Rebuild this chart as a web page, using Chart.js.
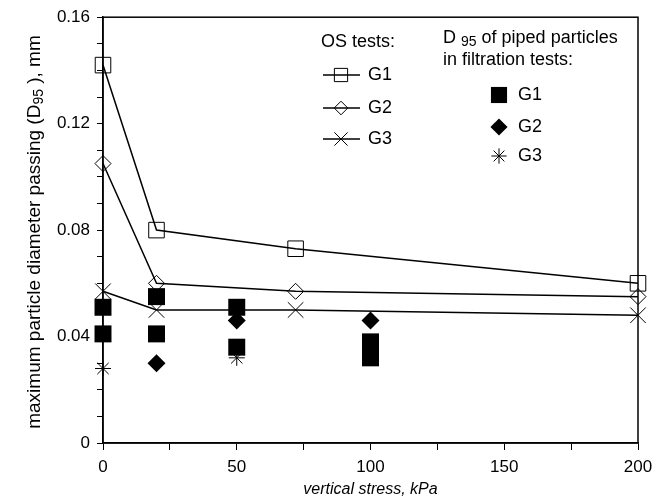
<!DOCTYPE html>
<html>
<head>
<meta charset="utf-8">
<script src="https://cdn.jsdelivr.net/npm/chart.js@4.4.1/dist/chart.umd.min.js"></script>
<style>
  html, body { margin: 0; padding: 0; background: #fff; }
</style>
</head>
<body>
<canvas id="chart" width="667" height="504"></canvas>
<script>
// OS tests: D95 (mm) against vertical stress (kPa)
var osStress = [0, 20, 72, 200];
var osG1 = [0.142, 0.080, 0.073, 0.060];
var osG2 = [0.105, 0.060, 0.057, 0.055];
var osG3 = [0.057, 0.050, 0.050, 0.048];

// D95 of the piped particles in the filtration tests
var filtG1Stress = [0, 0, 20, 20, 50, 50, 100, 100, 100];
var filtG1 = [0.051, 0.041, 0.055, 0.041, 0.051, 0.036, 0.038, 0.035, 0.032];
var filtG2Stress = [20, 50, 100];
var filtG2 = [0.030, 0.046, 0.046];
var filtG3Stress = [0, 50];
var filtG3 = [0.028, 0.032];

var seriesNames = ['G1', 'G2', 'G3'];
var xTickLabels = ['0', '50', '100', '150', '200'];
var yTickLabels = ['0', '0.04', '0.08', '0.12', '0.16'];

var FONT = '"Liberation Sans", Arial, sans-serif';

function pts(xs, ys) {
   return xs.map(function(x, i) { return { x: x, y: ys[i] }; });
}

function labelFor(list, value) {
   for (var i = 0; i < list.length; i++) {
      if (Math.abs(parseFloat(list[i]) - value) < 1e-9) return list[i];
   }
   return '';
}

var osDatasets = [
   { label: seriesNames[0], data: pts(osStress, osG1), pointStyle: 'rect', pointRadius: 11 },
   { label: seriesNames[1], data: pts(osStress, osG2), pointStyle: 'rectRot', pointRadius: 8 },
   { label: seriesNames[2], data: pts(osStress, osG3), pointStyle: 'crossRot', pointRadius: 11 }
].map(function(d) {
   return Object.assign(d, {
      showLine: true,
      borderColor: '#000',
      borderWidth: 1.5,
      pointBackgroundColor: 'rgba(0,0,0,0)',
      pointBorderColor: '#000',
      pointBorderWidth: 1,
      tension: 0,
      clip: false
   });
});

var filtDatasets = [
   { label: seriesNames[0], data: pts(filtG1Stress, filtG1), pointStyle: 'rect', pointRadius: 12, pointBorderWidth: 0 },
   { label: seriesNames[1], data: pts(filtG2Stress, filtG2), pointStyle: 'rectRot', pointRadius: 9, pointBorderWidth: 0 },
   { label: seriesNames[2], data: pts(filtG3Stress, filtG3), pointStyle: 'star', pointRadius: 8, pointBorderWidth: 1 }
].map(function(d) {
   return Object.assign(d, {
      showLine: false,
      pointBackgroundColor: '#000',
      pointBorderColor: '#000',
      clip: false
   });
});

// text with a smaller, lowered "95" in the middle
function drawSubText(ctx, x, y, parts, size, align) {
   var widths = parts.map(function(p) {
      ctx.font = (p.sub ? Math.round(size * 0.75) : size) + 'px ' + FONT;
      return ctx.measureText(p.text).width;
   });
   var total = widths.reduce(function(a, b) { return a + b; }, 0);
   var cx = align === 'center' ? x - total / 2 : x;
   ctx.textAlign = 'left';
   ctx.textBaseline = 'middle';
   parts.forEach(function(p, i) {
      ctx.font = (p.sub ? Math.round(size * 0.75) : size) + 'px ' + FONT;
      ctx.fillText(p.text, cx, y + (p.sub ? size * 0.22 : 0));
      cx += widths[i];
   });
}

var framePlugin = {
   id: 'frame',
   afterDraw: function(chart) {
      var ctx = chart.ctx, a = chart.chartArea;
      ctx.save();
      ctx.strokeStyle = '#000';
      ctx.lineWidth = 1.5;
      ctx.strokeRect(a.left, a.top, a.right - a.left, a.bottom - a.top);

      ctx.fillStyle = '#000';
      // y axis title
      ctx.save();
      ctx.translate(35, 232);
      ctx.rotate(-Math.PI / 2);
      drawSubText(ctx, 0, 0, [
         { text: 'maximum particle diameter passing (D' },
         { text: '95', sub: true },
         { text: ' ), mm' }
      ], 19, 'center');
      ctx.restore();

      // x axis title
      ctx.font = 'italic 16px ' + FONT;
      ctx.textAlign = 'center';
      ctx.textBaseline = 'middle';
      ctx.fillText('vertical stress, kPa', (a.left + a.right) / 2, 490);

      // legend, OS tests
      ctx.font = '18px ' + FONT;
      ctx.textAlign = 'left';
      ctx.fillText('OS tests:', 321, 42);
      var rowsOS = [75, 108, 139];
      osDatasets.forEach(function(d, i) {
         var y = rowsOS[i];
         ctx.strokeStyle = '#000';
         ctx.lineWidth = 1.5;
         ctx.beginPath();
         ctx.moveTo(323, y);
         ctx.lineTo(360, y);
         ctx.stroke();
         ctx.fillStyle = 'rgba(0,0,0,0)';
         ctx.lineWidth = 1;
         Chart.helpers.drawPoint(ctx, {
            pointStyle: d.pointStyle, radius: d.pointRadius * 0.85, rotation: 0, borderWidth: 1
         }, 341, y);
         ctx.fillStyle = '#000';
         ctx.font = '18px ' + FONT;
         ctx.fillText(d.label, 368, y);
      });

      // legend, filtration tests
      drawSubText(ctx, 443, 38, [
         { text: 'D ' }, { text: '95', sub: true }, { text: ' of piped particles' }
      ], 18, 'left');
      ctx.font = '18px ' + FONT;
      ctx.fillText('in filtration tests:', 443, 60);
      var rowsF = [95, 127, 156];
      filtDatasets.forEach(function(d, i) {
         var y = rowsF[i];
         ctx.fillStyle = '#000';
         ctx.strokeStyle = '#000';
         ctx.lineWidth = 1;
         Chart.helpers.drawPoint(ctx, {
            pointStyle: d.pointStyle, radius: d.pointRadius * 0.95, rotation: 0,
            borderWidth: d.pointBorderWidth
         }, 499, y);
         ctx.font = '18px ' + FONT;
         ctx.fillText(d.label, 518, y);
      });
      ctx.restore();
   }
};

new Chart(document.getElementById('chart'), {
   type: 'scatter',
   data: { datasets: filtDatasets.concat(osDatasets) },
   options: {
      responsive: false,
      devicePixelRatio: 1,
      animation: false,
      layout: { padding: { left: 0, right: 29, top: 15, bottom: 0 } },
      plugins: { legend: { display: false }, tooltip: { enabled: false } },
      scales: {
         x: {
            type: 'linear',
            min: 0,
            max: 200,
            afterFit: function(scale) { scale.height = 61; },
            border: { color: '#000', width: 1.5 },
            grid: { drawOnChartArea: false, drawTicks: true, tickLength: 7, color: '#000', tickWidth: 1 },
            ticks: {
               stepSize: 25,
               padding: 7,
               maxRotation: 0,
               autoSkip: false,
               color: '#000',
               font: { family: FONT, size: 17 },
               callback: function(v) { return labelFor(xTickLabels, v); }
            }
         },
         y: {
            type: 'linear',
            min: 0,
            max: 0.16,
            afterFit: function(scale) { scale.width = 103; },
            border: { color: '#000', width: 1.5 },
            grid: { drawOnChartArea: false, drawTicks: true, tickLength: 6, color: '#000', tickWidth: 1 },
            ticks: {
               stepSize: 0.01,
               padding: 7,
               autoSkip: false,
               color: '#000',
               font: { family: FONT, size: 17 },
               callback: function(v) { return labelFor(yTickLabels, v); }
            }
         }
      }
   },
   plugins: [framePlugin]
});
</script>
</body>
</html>
